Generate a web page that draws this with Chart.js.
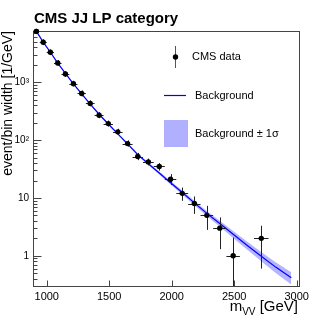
<!DOCTYPE html>
<html lang="en">
<head>
<meta charset="UTF-8">
<title>CMS JJ LP category</title>
<script src="https://cdn.jsdelivr.net/npm/chart.js"></script>
<style>
  html, body { margin: 0; padding: 0; background: #fff; }
  #wrap { width: 332px; height: 319px; }
</style>
</head>
<body>
<div id="wrap"><canvas id="mvvChart" width="332" height="319"></canvas></div>
<script>
// dijet mass bin edges (GeV)
const binEdges = [890, 944, 1000, 1058, 1118, 1181, 1246, 1313, 1383, 1455, 1530, 1607, 1687,
                  1770, 1856, 1945, 2037, 2132, 2231, 2332, 2438, 2546, 2659, 2775, 2895, 3019];

// CMS data per bin (null = empty bin, not drawn on log scale)
const dataValues  = [7600, 4910, 3300, 2155, 1390, 946, 641, 431, 269, 193, 139, 87, 52,
                     42, 35, 21, 12, 8, 5, 3, 1, null, 2, null, null];
const dataErrUp   = [900, 600, 400, 260, 170, 115, 80, 55, 35, 25, 18, 12, 8,
                     6, 5, 4.8, 3.1, 2.6, 2.3, 1.6, 1.07, null, 1.3, null, null];
const dataErrDown = [800, 520, 350, 230, 150, 100, 70, 48, 30, 22, 16, 10, 7,
                     5.5, 5.3, 4.2, 3.1, 2.7, 2.2, 1.7, 1.0, null, 1.4, null, null];

// background fit at bin centres and its relative 1 sigma band
const bkgValues = [7600, 4950, 3300, 2150, 1420, 940, 630, 420, 280, 190, 128, 86, 56,
                   39, 27, 18.3, 12.4, 8.2, 5.4, 3.6, 2.35, 1.52, 0.98, 0.63, 0.417];
const bkgRelErr = [0.02, 0.02, 0.02, 0.02, 0.02, 0.02, 0.025, 0.025, 0.03, 0.03, 0.035, 0.04, 0.045,
                   0.05, 0.06, 0.07, 0.08, 0.09, 0.10, 0.12, 0.14, 0.16, 0.18, 0.21, 0.24];

const xTicks = [1000, 1500, 2000, 2500, 3000];
const yTicks = [1, 10, 100, 1000];
const yTickLabels = ['1', '10', '10\u00B2', '10\u00B3'];

const centers = binEdges.slice(0, -1).map((e, i) => (e + binEdges[i + 1]) / 2);

const dataPts = [];
dataValues.forEach((v, i) => {
    if (v === null) return;
    dataPts.push({ x: centers[i], y: v, xlo: binEdges[i], xhi: binEdges[i + 1],
                   yhi: v + dataErrUp[i], ylo: v - dataErrDown[i] });
});
const bkgLine = centers.map((c, i) => ({ x: c, y: bkgValues[i] }));
const bandHi = centers.map((c, i) => ({ x: c, y: bkgValues[i] * (1 + bkgRelErr[i]) }));
const bandLo = centers.map((c, i) => ({ x: c, y: bkgValues[i] * (1 - bkgRelErr[i]) }));

const FONT = "'Liberation Sans', Arial, Helvetica, sans-serif";

// error bars of the data, drawn just before the markers
const errorBars = {
    id: 'errorBars',
    beforeDatasetDraw(chart, args) {
        if (args.index !== 3) return;
        const { ctx, chartArea: a, scales: { x, y } } = chart;
        ctx.save();
        ctx.beginPath();
        ctx.rect(a.left, a.top, a.right - a.left, a.bottom - a.top);
        ctx.clip();
        ctx.strokeStyle = '#222';
        ctx.lineWidth = 1;
        dataPts.forEach(p => {
            const px = Math.round(x.getPixelForValue(p.x)) + 0.5;
            const py = Math.round(y.getPixelForValue(p.y)) + 0.5;
            const top = y.getPixelForValue(p.yhi);
            const bot = p.ylo > 0 ? y.getPixelForValue(p.ylo) : a.bottom + 5;
            ctx.beginPath();
            ctx.moveTo(px, top); ctx.lineTo(px, bot);
            ctx.moveTo(x.getPixelForValue(p.xlo), py); ctx.lineTo(x.getPixelForValue(p.xhi), py);
            ctx.stroke();
        });
        ctx.restore();
    }
};

// ROOT-like frame, inner ticks, titles and legend
const frame = {
    id: 'frame',
    afterDraw(chart) {
        const { ctx, chartArea: a, scales: { x, y } } = chart;
        ctx.save();
        ctx.strokeStyle = '#444';
        ctx.lineWidth = 1;
        ctx.strokeRect(Math.round(a.left) + 0.5, Math.round(a.top) + 0.5,
                       Math.round(a.right - a.left), Math.round(a.bottom - a.top));

        ctx.beginPath();
        const left = Math.round(a.left) + 0.5;
        for (let dec = -1; dec <= 3; dec++) {
            for (let m = 1; m <= 9; m++) {
                const v = m * Math.pow(10, dec);
                if (v < y.min || v > y.max) continue;
                const py = Math.round(y.getPixelForValue(v)) + 0.5;
                ctx.moveTo(left, py);
                ctx.lineTo(left + (m === 1 ? 8 : 4), py);
            }
        }
        const bottom = Math.round(a.bottom) + 0.5;
        xTicks.forEach(v => {
            const px = Math.round(x.getPixelForValue(v)) + 0.5;
            ctx.moveTo(px, bottom);
            ctx.lineTo(px, bottom - 6);
        });
        ctx.stroke();

        // first data marker sits on the frame corner, redraw it on top
        const p0 = dataPts[0];
        ctx.fillStyle = '#000';
        ctx.beginPath();
        ctx.arc(x.getPixelForValue(p0.x), y.getPixelForValue(p0.y), 2.7, 0, Math.PI * 2);
        ctx.fill();

        ctx.textBaseline = 'alphabetic';
        ctx.textAlign = 'left';
        ctx.font = 'bold 15px ' + FONT;
        ctx.fillText('CMS JJ LP category', 34, 23);

        // x axis title: m_VV [GeV], right aligned on the frame
        const right = 298;
        ctx.font = '15px ' + FONT;
        const wRest = ctx.measureText(' [GeV]').width;
        const wM = ctx.measureText('m').width;
        ctx.font = '10px ' + FONT;
        const wSub = ctx.measureText('VV').width;
        let tx = right - wRest - wSub - wM;
        ctx.font = '15px ' + FONT;
        ctx.fillText('m', tx, 311);
        ctx.font = '10px ' + FONT;
        ctx.fillText('VV', tx + wM, 315);
        ctx.font = '15px ' + FONT;
        ctx.fillText(' [GeV]', tx + wM + wSub, 311);

        // legend
        ctx.font = '11px ' + FONT;
        ctx.textBaseline = 'middle';
        ctx.strokeStyle = '#555';
        ctx.beginPath();
        ctx.moveTo(175.5, 46); ctx.lineTo(175.5, 68);
        ctx.stroke();
        ctx.fillStyle = '#000';
        ctx.beginPath();
        ctx.arc(175.5, 57, 2.7, 0, Math.PI * 2);
        ctx.fill();
        ctx.fillText('CMS data', 192, 57);

        ctx.strokeStyle = '#0000ff';
        ctx.lineWidth = 1.2;
        ctx.beginPath();
        ctx.moveTo(164, 95.5); ctx.lineTo(186, 95.5);
        ctx.stroke();
        ctx.fillText('Background', 195, 96);

        ctx.fillStyle = 'rgba(150,150,255,0.75)';
        ctx.fillRect(164, 120, 24, 27);
        ctx.fillStyle = '#000';
        ctx.fillText('Background \u00B1 1\u03C3', 195, 134);
        ctx.restore();
    }
};

const ctx = document.getElementById('mvvChart').getContext('2d');
new Chart(ctx, {
    type: 'scatter',
    data: {
        datasets: [
            { data: bandHi, showLine: true, pointRadius: 0, borderWidth: 0,
              backgroundColor: 'rgba(150,150,255,0.7)', fill: '+1', order: 3 },
            { data: bandLo, showLine: true, pointRadius: 0, borderWidth: 0,
              backgroundColor: 'rgba(150,150,255,0.7)', fill: false, order: 3 },
            { data: bkgLine, showLine: true, pointRadius: 0, borderColor: '#0000ff',
              borderWidth: 1.2, fill: false, order: 2 },
            { data: dataPts, pointRadius: 2.7, pointBackgroundColor: '#000',
              pointBorderWidth: 0, borderColor: '#000', order: 1, clip: 4 }
        ]
    },
    options: {
        responsive: false,
        animation: false,
        layout: { padding: { top: 31, right: 33, left: 0, bottom: 0 } },
        plugins: { legend: { display: false }, tooltip: { enabled: false } },
        scales: {
            x: {
                type: 'linear', min: 890, max: 3019,
                grid: { display: false, drawTicks: false },
                border: { display: false },
                afterBuildTicks: s => { s.ticks = xTicks.map(v => ({ value: v })); },
                afterFit: s => { s.height = 33; },
                ticks: { padding: 4, color: '#000', font: { family: FONT, size: 11 },
                         maxRotation: 0, callback: v => String(v) }
            },
            y: {
                type: 'logarithmic', min: 0.303, max: 7700,
                grid: { display: false, drawTicks: false },
                border: { display: false },
                afterBuildTicks: s => { s.ticks = yTicks.map(v => ({ value: v })); },
                afterFit: s => { s.width = 33; },
                ticks: { padding: 4, color: '#000', font: { family: FONT, size: 10 },
                         callback: v => yTickLabels[yTicks.indexOf(v)] },
                title: { display: true, text: 'event/bin width [1/GeV]', align: 'end',
                         color: '#000', padding: 0, font: { family: FONT, size: 14 } }
            }
        }
    },
    plugins: [errorBars, frame]
});
</script>
</body>
</html>
